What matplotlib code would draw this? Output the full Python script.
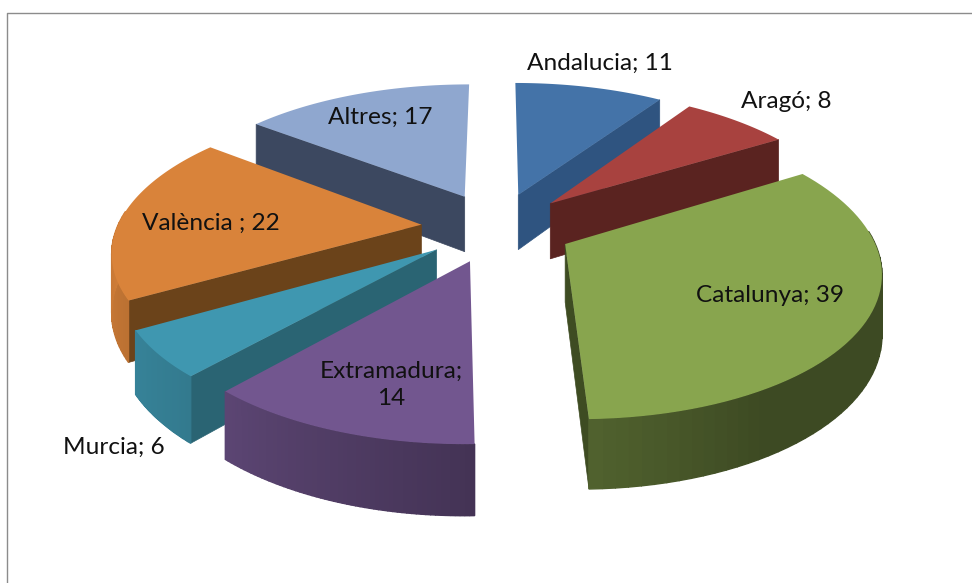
import numpy as np
import matplotlib
matplotlib.use("Agg")
import matplotlib.pyplot as plt
from matplotlib.colors import to_rgb

regions = ["Andalucia", "Aragó", "Catalunya", "Extramadura", "Murcia", "València", "Altres"]
values = [11, 8, 39, 14, 6, 22, 17]
labels = ["Andalucia; 11", "Aragó; 8", "Catalunya; 39", "Extramadura;\n14", "Murcia; 6", "València ; 22", "Altres; 17"]
top_colors = ["#4473A8", "#A8423F", "#88A54E", "#72568F", "#3F97B0", "#D9833A", "#8FA7CF"]
cut_colors = ["#2F5480", "#5A2320", "#3E4C22", "#3D2F52", "#2A6473", "#6B431A", "#3C4860"]
label_pos = [(600, 63), (786, 102), (770, 296), (391, 385), (114, 447), (211, 223), (380, 117)]

# view settings, tuned by eye against the picture
CX, CY, RX, RY, K, DEPTH, EXPLODE = 497, 227, 304, 140, 0.165, 57, 0.25


def project(u, v, z=0.0):
    s = 1 / (1 + K * v)
    return CX + RX * u * s, CY - RY * v * s + DEPTH * z * s


fig, ax = plt.subplots(figsize=(9.72, 5.83), dpi=100)
ax.set_position([0, 0, 1, 1])
ax.set_xlim(0, 972)
ax.set_ylim(583, 0)
ax.axis("off")

# chart frame
ax.plot([7, 7, 972], [583, 13, 13], color="#8c8c8c", lw=1)

angles = np.cumsum([0] + values) / sum(values) * 2 * np.pi
slices = []
for i in range(len(values)):
    a0, a1 = angles[i], angles[i + 1]
    mid = (a0 + a1) / 2
    slices.append((np.cos(mid), i, a0, a1, mid))

for _, i, a0, a1, mid in sorted(slices, reverse=True):
    ou, ov = EXPLODE * np.sin(mid), EXPLODE * np.cos(mid)
    th = np.linspace(a0, a1, 60)
    u = ou + np.sin(th)
    v = ov + np.cos(th)

    # cut faces, only the ones turned towards the viewer
    if np.sin(a0) < -0.01:
        pts = [project(ou, ov), project(u[0], v[0]), project(u[0], v[0], 1), project(ou, ov, 1)]
        ax.fill(*zip(*pts), color=cut_colors[i], lw=0.5, zorder=2)
    if np.sin(a1) > -0.01 and a1 < 6:
        pts = [project(ou, ov), project(u[-1], v[-1]), project(u[-1], v[-1], 1), project(ou, ov, 1)]
        ax.fill(*zip(*pts), color=cut_colors[i], lw=0.5, zorder=2)

    # outer wall, in strips so it can be shaded across
    base = np.array(to_rgb(top_colors[i]))
    for j in range(len(th) - 1):
        t = (th[j] + th[j + 1]) / 2
        if np.cos(t) > 0.1:
            continue
        shade = np.interp(np.degrees(t), [90, 150, 180, 225, 270], [0.45, 0.45, 0.6, 0.82, 0.95])
        pts = [project(u[j], v[j]), project(u[j + 1], v[j + 1]),
               project(u[j + 1], v[j + 1], 1), project(u[j], v[j], 1)]
        ax.fill(*zip(*pts), color=base * shade, lw=1, zorder=2)

    # top face
    top = [project(ou, ov)] + [project(a, b) for a, b in zip(u, v)]
    ax.fill(*zip(*top), color=top_colors[i], lw=0, zorder=2)

for text, (x, y) in zip(labels, label_pos):
    ax.text(x, y, text, ha="center", va="center", fontsize=17.6, family="Lato",
            color="#111111", zorder=3, linespacing=1.4)

fig.savefig("out.png", dpi=100)
plt.close()
